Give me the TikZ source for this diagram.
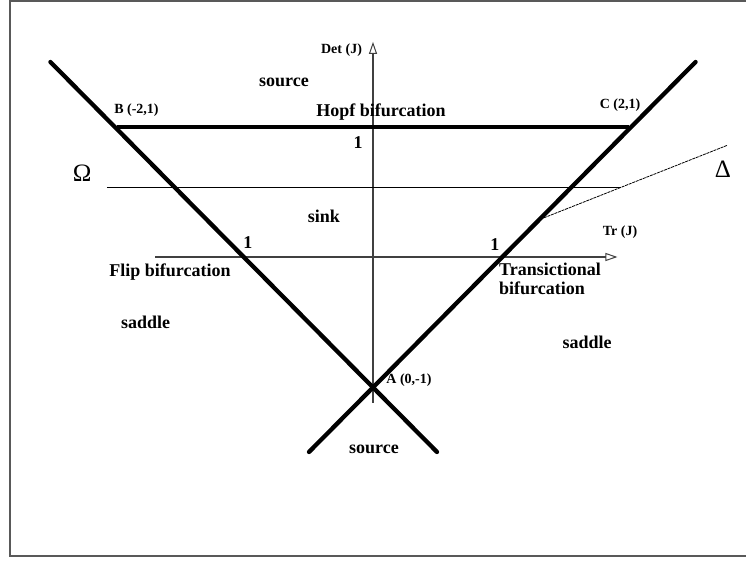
\documentclass[tikz,border=0pt]{standalone}
\usepackage{fontspec}
\setmainfont{Liberation Serif}
\usetikzlibrary{arrows.meta,calc}
\tikzset{
  base/.style={font=\bfseries\fontsize{18}{19}\selectfont, inner sep=0pt, text=black},
  small/.style={base, font=\bfseries\fontsize{14}{15}\selectfont},
  greek/.style={font=\fontsize{25}{27}\selectfont, inner sep=0pt, text=black},
  branch/.style={line width=4.3pt, line cap=round, draw=black},
  hopf/.style={line width=4.2pt, draw=black},
  axis/.style={line width=1.2pt, draw=black!75, -{Triangle[open,length=12pt,width=8pt,line width=1pt]}},
  thinline/.style={line width=1pt, draw=black},
  deltaline/.style={line width=0.8pt, draw=black, dash pattern=on 3pt off 0.8pt},
  frame/.style={line width=1.3pt, draw=black!65},
}
\begin{document}
\begin{tikzpicture}[x=128pt,y=130pt]
  \useasboundingbox (-373pt,257pt) rectangle (373pt,-304pt);
  \draw[frame] (-363pt,256pt) rectangle (390pt,-299pt);
  % corners of the stability triangle
  \coordinate (A) at (0,-1);
  \coordinate (B) at (-2,1);
  \coordinate (C) at (2,1);
  \coordinate (L1) at (-2.52,1.5);
  \coordinate (L2) at (0.5,-1.5);
  \coordinate (R1) at (2.52,1.5);
  \coordinate (R2) at (-0.5,-1.5);
  % axes
  \coordinate (tr0) at (-1.70,0);
  \coordinate (tr1) at (1.91,0);
  \coordinate (det0) at (0,-1.12);
  \coordinate (det1) at (0,1.655);
  \draw[axis] (tr0) -- (tr1);
  \draw[axis] (det0) -- (det1);
  % Omega and Delta lines
  \coordinate (D0) at (1.28,0.28);
  \coordinate (D1) at (2.77,0.86);
  \coordinate (W0) at (-2.08,0.535);
  \coordinate (W1) at (1.936,0.535);
  \draw[thinline] (W0) -- (W1);
  \draw[deltaline] (D0) -- (D1);
  % bifurcation lines
  \draw[branch] (L1) -- (L2);
  \draw[branch] (R1) -- (R2);
  \draw[hopf] (B) -- (C);
  % labels
  \node[small,anchor=east] (detlbl) at (-0.085,1.592) {Det (J)};
  \node[small] (trlbl) at (1.93,0.192) {Tr (J)};
  \node[small] (blbl) at (-1.848,1.131) {B (-2,1)};
  \node[small] (clbl) at (1.93,1.169) {C (2,1)};
  \node[small] (albl) at (0.281,-0.946) {A (0,-1)};
  \node[base] (srctop) at (-0.695,1.346) {source};
  \node[base] (hopflbl) at (0.0625,1.112) {Hopf bifurcation};
  \node[base] (onetop) at (-0.117,0.877) {1};
  \node[base] (oneleft) at (-0.977,0.108) {1};
  \node[base] (oneright) at (0.953,0.092) {1};
  \node[base] (sink) at (-0.383,0.315) {sink};
  \node[base] (flip) at (-1.586,-0.115) {Flip bifurcation};
  \node[base] (sadleft) at (-1.777,-0.5) {saddle};
  \node[base,align=left,anchor=north west] (trans) at (0.984,-0.045) {Transictional\\bifurcation};
  \node[base] (sadright) at (1.672,-0.654) {saddle};
  \node[base] (srcbot) at (0.008,-1.477) {source};
  \node[greek] (omega) at (-2.273,0.646) {Ω};
  \node[greek] (delta) at (2.734,0.677) {Δ};
\end{tikzpicture}
\end{document}
